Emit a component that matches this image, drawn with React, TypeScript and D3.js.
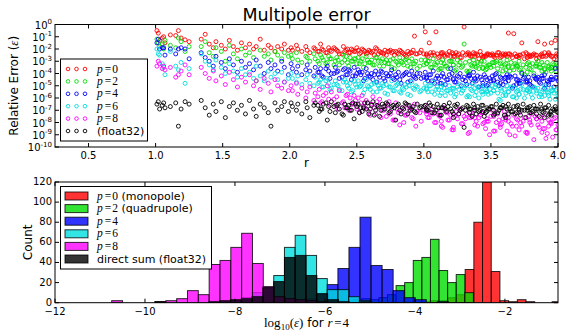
import * as d3 from "d3";

const W = 566;
const H = 336;

// ---------- top panel: sample radius and log10 relative error per order ----------
const rSamples = [
  1.01, 1.02, 1.03, 1.05, 1.06, 1.07, 1.11, 1.15, 1.17, 1.19, 1.22, 1.25,
  1.34, 1.37, 1.4, 1.43, 1.45, 1.49, 1.52, 1.55, 1.58, 1.61, 1.64, 1.67, 1.7, 1.73, 1.75, 1.78, 1.81, 1.84, 1.86, 1.89, 1.91, 1.94, 1.96, 1.99,
  2.01, 2.02, 2.05, 2.06, 2.09, 2.12, 2.13, 2.15, 2.18, 2.19, 2.22, 2.23, 2.25, 2.28, 2.29, 2.31, 2.34, 2.35, 2.37, 2.4, 2.41, 2.43, 2.45, 2.47, 2.48, 2.5,
  2.51, 2.53, 2.54, 2.56, 2.57, 2.59, 2.61, 2.62, 2.64, 2.66, 2.67, 2.69, 2.71, 2.72, 2.74, 2.76, 2.77, 2.79, 2.81, 2.82, 2.84, 2.86, 2.88, 2.89, 2.91, 2.93, 2.95, 2.98,
  3.01, 3.02, 3.04, 3.06, 3.07, 3.09, 3.1, 3.12, 3.14, 3.15, 3.17, 3.19, 3.2, 3.22, 3.24, 3.25, 3.27, 3.29, 3.3, 3.32, 3.34, 3.35, 3.37, 3.39, 3.4, 3.42, 3.44, 3.45, 3.47, 3.49,
  3.51, 3.52, 3.54, 3.55, 3.57, 3.59, 3.6, 3.62, 3.63, 3.65, 3.67, 3.68, 3.7, 3.71, 3.73, 3.74, 3.76, 3.78, 3.79, 3.81, 3.82, 3.84, 3.85, 3.87, 3.89, 3.9, 3.92, 3.93, 3.95, 3.96, 3.98, 3.99,
  2.21, 2.24, 2.27, 2.3, 2.33, 2.36, 2.39, 2.42, 2.44, 2.46,
  2.49, 2.52, 2.55, 2.58, 2.6, 2.63, 2.65, 2.68, 2.7, 2.73,
  2.75, 2.78, 2.8, 2.83, 2.85, 2.87, 2.9, 2.92, 2.94, 2.97,
  3.0, 3.03, 3.05, 3.08, 3.11, 3.13, 3.16, 3.18, 3.21, 3.23,
  3.26, 3.28, 3.31, 3.33, 3.36, 3.38, 3.41, 3.43, 3.46, 3.48,
  3.5, 3.53, 3.56, 3.58, 3.61, 3.64, 3.66, 3.69, 3.72, 3.75,
  3.77, 3.8, 3.83, 3.86, 3.88, 3.91, 3.94, 3.97, 3.985, 4.0,
  3.02, 3.13, 3.22, 3.34, 3.44, 3.52, 3.61, 3.69, 3.77, 3.84,
  3.9, 3.95, 3.57, 3.63, 3.71, 3.79, 3.88, 3.93, 3.47, 3.38,
];

const errP0 = [
  -0.5, -0.7, -1.3, -1.1, -1.0, -1.5, -0.85, -0.9, -0.5, -1.1, -1.25, -1.4,
  -1.2, -0.8, -1.6, -1.9, -1.4, -1.7, -2.0, -1.3, -1.8, -2.1, -1.5, -1.9, -1.6, -2.0, -1.8, -1.2, -2.1, -1.7, -1.9, -2.2, -1.8, -2.0, -1.6, -2.1,
  -1.9, -2.1, -1.7, -2.0, -2.2, -1.8, -2.1, -2.3, -1.9, -2.0, -2.2, -1.6, -2.1, -2.3, -1.9, -2.2, -2.0, -2.1, -2.4, -1.8, -2.2, -2.0, -2.3, -2.1, -2.2, -1.9,
  -2.1, -2.3, -2.0, -2.2, -2.4, -2.1, -2.3, -2.2, -1.9, -2.4, -2.2, -2.3, -2.1, -2.5, -2.2, -2.3, -2.2, -2.2, -2.4, -2.1, -2.3, -2.5, -2.2, -2.4, -2.3, -0.95, -2.4, -2.1,
  -0.6, -2.4, -1.5, -2.5, -2.3, -0.6, -2.4, -2.6, -2.3, -2.5, -2.4, -2.2, -2.6, -2.4, -2.3, -2.5, -2.7, -2.3, -0.2, -2.4, -2.5, -2.6, -2.3, -2.4, -2.5, -2.2, -2.6, -2.6, -2.4, -2.5,
  -2.4, -2.6, -2.5, -2.3, -2.7, -2.4, -2.5, -2.6, -0.7, -2.5, -0.75, -2.4, -2.6, -2.5, -1.5, -2.4, -2.3, -2.6, -2.6, -2.5, -2.4, -2.8, -1.4, -2.5, -2.6, -1.6, -2.5, -2.3, -1.5, -2.6, -1.3, -2.4,
  -2.2, -2.0, -2.3, -2.1, -1.9, -2.2, -2.4, -2.1, -2.3, -2.0,
  -2.2, -2.4, -2.1, -2.3, -2.2, -2.5, -2.0, -2.3, -2.4, -2.2,
  -2.1, -2.5, -2.3, -2.2, -2.4, -2.6, -2.3, -2.1, -2.4, -2.3,
  -2.4, -2.6, -2.3, -2.5, -2.7, -2.4, -2.6, -2.5, -2.3, -2.6,
  -2.4, -2.7, -2.5, -2.3, -2.6, -2.4, -2.8, -2.5, -2.6, -2.4,
  -2.5, -2.7, -2.3, -2.6, -2.5, -2.4, -2.7, -2.6, -2.5, -2.8,
  -2.4, -2.6, -2.5, -2.7, -2.4, -2.6, -2.5, -2.8, -2.6, -2.5,
  -2.5, -2.3, -2.6, -2.4, -2.7, -2.5, -2.4, -2.6, -2.7, -2.5,
  -2.3, -2.6, -2.5, -2.4, -2.7, -2.5, -2.6, -2.4, -2.5, -2.6,
];

const errP2 = [
  -1.2, -1.5, -1.8, -1.6, -2.0, -1.3, -1.7, -1.9, -1.1, -1.4, -2.2, -1.8,
  -1.8, -1.4, -2.3, -2.6, -1.9, -2.2, -3.0, -1.7, -2.4, -2.8, -2.0, -2.5, -2.3, -2.7, -4.6, -2.1, -2.6, -2.4, -2.9, -2.2, -2.5, -2.8, -2.3, -2.6,
  -2.5, -2.8, -2.3, -2.9, -3.1, -2.6, -2.7, -3.0, -2.4, -2.8, -3.2, -2.5, -2.9, -3.1, -2.6, -2.8, -3.0, -2.7, -3.3, -2.5, -2.9, -3.1, -2.7, -3.0, -2.8, -3.2,
  -2.7, -3.0, -2.8, -3.2, -2.6, -3.1, -2.9, -3.3, -2.7, -3.0, -3.4, -2.8, -3.1, -2.9, -3.2, -3.5, -2.8, -3.0, -3.3, -2.7, -3.1, -2.9, -3.4, -3.0, -2.8, -3.2, -3.6, -2.9,
  -2.9, -3.2, -3.0, -3.5, -2.8, -3.3, -3.1, -3.6, -2.9, -3.2, -3.4, -3.0, -3.0, -3.3, -3.7, -2.9, -3.1, -3.4, -1.6, -3.8, -3.0, -3.3, -2.9, -3.5, -3.1, -3.2, -3.6, -3.0, -3.4, -3.3,
  -3.1, -3.4, -3.0, -3.6, -3.2, -3.8, -3.3, -2.9, -3.5, -3.1, -3.7, -3.2, -3.4, -3.0, -3.9, -3.3, -3.5, -3.1, -3.6, -3.2, -4.0, -3.4, -3.0, -3.5, -3.3, -3.7, -3.1, -3.4, -3.8, -3.2, -3.5, -3.3,
  -3.0, -2.7, -3.2, -2.8, -3.3, -2.9, -3.1, -2.6, -3.4, -3.0,
  -2.8, -3.2, -3.5, -2.9, -3.1, -3.3, -2.7, -3.0, -3.4, -3.2,
  -2.9, -3.6, -3.1, -3.0, -3.3, -2.8, -3.5, -3.2, -3.0, -3.4,
  -3.3, -3.0, -3.5, -3.2, -3.7, -3.1, -3.4, -3.6, -3.0, -3.8,
  -3.3, -3.5, -3.1, -3.9, -3.4, -3.2, -3.6, -3.0, -3.7, -3.3,
  -3.5, -3.1, -4.0, -3.4, -3.2, -3.8, -3.5, -3.3, -3.6, -4.1,
  -3.2, -3.7, -3.4, -3.5, -3.1, -3.9, -3.6, -3.3, -3.8, -3.4,
  -3.2, -3.6, -3.3, -3.8, -3.5, -3.1, -3.7, -3.4, -3.9, -3.2,
  -3.6, -3.5, -3.0, -3.4, -3.7, -3.3, -3.8, -3.5, -3.6, -3.4,
];

const errP4 = [
  -1.5, -1.2, -2.0, -1.9, -1.9, -2.5, -2.0, -2.4, -2.0, -1.9, -2.0, -2.8,
  -2.3, -2.7, -3.0, -3.4, -2.6, -3.1, -3.6, -2.8, -3.3, -3.9, -3.0, -3.5, -3.2, -3.7, -2.9, -3.4, -4.0, -3.1, -3.6, -3.3, -3.8, -3.0, -3.5, -4.1,
  -3.2, -3.6, -3.9, -3.4, -4.1, -3.7, -3.3, -3.8, -4.2, -3.5, -3.9, -3.6, -4.3, -3.4, -3.8, -4.0, -3.5, -3.9, -4.4, -3.7, -3.6, -4.1, -3.8, -4.2, -3.5, -4.0,
  -3.7, -4.1, -3.9, -4.4, -3.6, -4.2, -4.0, -4.5, -3.8, -4.1, -4.3, -3.9, -4.6, -4.0, -4.2, -3.7, -4.4, -4.1, -3.9, -4.5, -4.2, -4.0, -4.7, -4.1, -3.8, -4.3, -4.0, -4.4,
  -3.9, -4.3, -4.1, -4.6, -3.8, -4.4, -4.2, -4.8, -4.0, -4.3, -4.5, -4.1, -3.6, -4.4, -4.7, -4.2, -4.0, -4.5, -4.3, -4.9, -4.1, -4.4, -3.9, -4.6, -4.2, -4.3, -4.8, -4.1, -4.5, -4.4,
  -4.2, -4.5, -4.0, -4.7, -4.3, -4.9, -4.4, -4.1, -4.6, -4.3, -5.0, -4.2, -4.5, -4.8, -4.0, -4.4, -4.7, -4.3, -4.6, -5.1, -4.2, -4.5, -4.3, -4.8, -4.4, -4.1, -4.6, -4.9, -4.3, -4.5, -3.6, -4.4,
  -3.9, -4.2, -3.6, -4.4, -4.0, -3.8, -4.3, -4.1, -3.7, -4.5,
  -4.2, -3.9, -4.6, -4.0, -4.3, -4.1, -4.7, -3.8, -4.4, -4.2,
  -4.0, -4.5, -4.3, -4.8, -4.1, -3.9, -4.6, -4.2, -4.4, -4.0,
  -4.3, -4.6, -4.1, -4.8, -4.4, -4.2, -4.9, -4.5, -4.0, -4.7,
  -4.3, -5.0, -4.6, -4.2, -4.8, -4.4, -5.1, -4.5, -4.3, -4.9,
  -4.6, -4.1, -5.0, -4.4, -4.7, -4.2, -5.2, -4.5, -4.8, -4.3,
  -4.6, -5.0, -4.4, -4.7, -4.2, -4.9, -4.5, -5.1, -4.3, -4.6,
  -4.4, -4.8, -4.5, -4.2, -5.0, -4.6, -4.3, -4.9, -4.7, -4.4,
  -5.2, -4.5, -4.8, -4.3, -4.6, -4.9, -4.4, -4.7, -5.0, -4.5,
];

const errP6 = [
  -2.0, -2.4, -2.5, -3.2, -3.5, -4.1, -2.2, -3.4, -3.7, -3.1, -4.8, -3.6,
  -2.4, -3.0, -3.3, -3.7, -2.9, -3.5, -4.0, -3.2, -3.8, -4.3, -3.6, -4.1, -3.9, -4.4, -3.4, -4.2, -4.6, -3.8, -4.3, -4.0, -4.5, -3.9, -4.7, -4.4,
  -4.0, -4.4, -4.7, -4.2, -4.9, -4.5, -4.1, -4.8, -5.0, -4.3, -4.7, -4.5, -5.1, -4.4, -4.8, -5.2, -4.6, -4.9, -5.3, -4.7, -4.5, -5.0, -4.8, -5.4, -4.6, -5.1,
  -4.6, -5.0, -4.8, -5.3, -4.5, -5.1, -4.9, -5.5, -4.7, -5.0, -5.2, -4.8, -5.6, -4.9, -5.1, -4.6, -5.4, -5.0, -4.8, -5.5, -5.2, -4.9, -5.7, -5.0, -4.7, -5.3, -5.1, -5.4,
  -4.8, -5.2, -5.0, -5.5, -4.7, -5.3, -5.1, -5.8, -4.9, -5.2, -5.4, -5.0, -5.6, -5.3, -5.7, -5.1, -4.9, -5.4, -5.2, -5.9, -5.0, -5.3, -4.8, -5.5, -5.1, -5.2, -5.7, -5.0, -5.4, -5.3,
  -5.0, -5.4, -4.9, -5.6, -5.2, -5.8, -5.3, -5.0, -5.5, -5.1, -5.9, -5.2, -5.4, -5.7, -4.9, -5.3, -5.6, -5.2, -5.5, -6.0, -5.1, -5.4, -5.2, -5.7, -5.3, -5.0, -5.5, -5.8, -5.2, -5.4, -6.1, -5.3,
  -4.8, -5.1, -4.6, -5.3, -4.9, -5.0, -5.4, -4.7, -5.2, -5.5,
  -4.9, -5.1, -5.6, -5.0, -5.3, -4.8, -5.5, -5.2, -5.0, -5.7,
  -5.1, -5.4, -4.9, -5.6, -5.3, -5.1, -5.8, -5.2, -5.0, -5.5,
  -5.2, -5.5, -5.0, -5.7, -5.3, -5.1, -5.8, -5.4, -5.2, -5.9,
  -5.3, -5.6, -5.0, -5.8, -5.4, -5.2, -6.0, -5.5, -5.3, -5.7,
  -5.6, -5.1, -6.1, -5.4, -5.8, -5.2, -5.9, -5.5, -5.3, -6.0,
  -5.4, -5.7, -5.2, -5.9, -5.5, -5.3, -6.1, -5.6, -5.4, -5.8,
  -5.3, -5.6, -5.2, -5.9, -5.5, -5.4, -5.7, -6.0, -5.3, -5.6,
  -5.8, -5.4, -6.2, -5.5, -5.7, -5.3, -5.9, -5.6, -5.5, -5.8,
];

const errP8 = [
  -3.4, -3.0, -3.2, -3.6, -3.4, -3.7, -3.5, -4.3, -4.1, -3.8, -3.3, -4.1,
  -3.5, -4.0, -4.4, -3.8, -4.6, -4.2, -4.9, -3.9, -4.5, -5.1, -4.3, -4.7, -4.1, -5.0, -4.6, -5.3, -4.4, -4.8, -5.5, -4.5, -5.0, -5.2, -4.7, -5.4,
  -5.0, -5.4, -4.8, -5.7, -5.2, -6.0, -5.5, -5.1, -6.2, -5.6, -5.3, -6.4, -5.8, -5.0, -6.1, -5.5, -6.6, -5.9, -5.4, -6.3, -6.8, -5.7, -6.0, -6.5, -5.8, -6.9,
  -6.0, -6.4, -5.8, -6.8, -6.2, -7.1, -6.5, -5.9, -7.3, -6.6, -6.1, -7.0, -6.7, -7.5, -6.3, -6.9, -7.8, -6.4, -7.2, -8.2, -6.8, -7.4, -6.6, -7.0, -7.6, -6.5, -7.1, -7.9,
  -6.6, -7.1, -7.6, -6.9, -7.3, -8.0, -7.0, -7.5, -8.4, -6.8, -7.2, -7.8, -7.4, -8.6, -7.1, -7.7, -6.9, -8.1, -7.5, -7.3, -8.8, -7.6, -7.0, -7.9, -8.3, -7.4, -7.2, -8.0, -7.7, -9.0,
  -7.0, -7.5, -8.0, -7.3, -8.4, -7.7, -7.1, -8.7, -7.6, -8.1, -7.4, -9.1, -7.8, -7.2, -8.3, -7.9, -8.8, -7.5, -8.0, -7.3, -9.4, -7.7, -8.2, -7.6, -8.5, -7.4, -8.9, -7.8, -8.1, -9.2, -7.6, -8.6,
  -5.9, -6.3, -5.6, -6.6, -6.1, -6.9, -6.4, -5.8, -7.0, -6.5,
  -6.2, -7.2, -6.7, -6.4, -7.4, -6.8, -6.3, -7.6, -7.0, -6.6,
  -7.3, -7.8, -6.9, -7.1, -8.0, -7.4, -6.8, -7.7, -8.3, -7.2,
  -7.0, -7.6, -7.2, -8.0, -7.4, -8.3, -7.1, -7.8, -8.6, -7.5,
  -7.3, -8.1, -7.7, -8.9, -7.4, -8.2, -7.6, -7.2, -8.5, -7.9,
  -7.5, -8.7, -7.8, -8.1, -7.4, -9.0, -8.3, -7.7, -8.0, -7.6,
  -8.8, -8.2, -7.5, -8.4, -7.9, -9.3, -8.0, -7.7, -8.6, -8.2,
  -7.3, -7.9, -8.4, -7.6, -8.1, -8.7, -7.8, -8.3, -8.9, -7.7,
  -8.5, -8.0, -8.2, -7.9, -8.6, -7.8, -8.8, -8.3, -7.9, -7.6,
];

const errF32 = [
  -6.5, -6.3, -6.9, -6.6, -6.4, -6.8, -6.7, -6.4, -8.3, -6.9, -6.3, -6.5,
  -6.2, -6.8, -7.4, -6.5, -7.1, -6.3, -7.6, -6.7, -6.4, -7.0, -6.6, -7.3, -6.2, -6.9, -7.5, -6.5, -6.8, -7.2, -8.3, -6.4, -7.0, -6.7, -6.3, -7.1,
  -6.4, -6.7, -7.0, -6.5, -7.3, -6.3, -6.8, -7.6, -6.6, -6.4, -7.1, -6.9, -6.5, -7.8, -6.7, -6.3, -7.2, -6.6, -6.9, -7.4, -6.5, -6.8, -7.0, -6.4, -7.7, -6.7,
  -6.5, -6.8, -7.1, -6.4, -6.9, -7.3, -6.6, -6.3, -7.0, -6.7, -7.5, -6.5, -6.9, -6.4, -7.2, -6.7, -6.6, -7.8, -6.5, -7.0, -6.8, -6.4, -7.3, -6.6, -6.9, -7.1, -6.5, -6.7,
  -6.6, -6.9, -6.4, -7.2, -6.7, -7.0, -6.5, -7.4, -6.8, -6.6, -7.1, -6.4, -6.9, -7.6, -6.7, -6.5, -7.0, -6.8, -8.4, -6.6, -7.2, -6.9, -6.5, -7.3, -6.7, -7.0, -6.6, -7.5, -6.8, -6.9,
  -6.7, -7.0, -6.5, -7.2, -6.8, -6.6, -7.4, -6.9, -6.5, -7.1, -6.7, -7.3, -6.6, -6.9, -7.0, -6.5, -7.6, -6.8, -6.7, -7.1, -6.6, -7.3, -6.9, -6.5, -7.2, -6.8, -7.0, -6.6, -7.4, -6.9, -6.7, -7.1,
  -6.6, -6.9, -6.4, -7.1, -6.7, -6.5, -7.3, -6.8, -6.6, -7.0,
  -6.5, -7.2, -6.8, -6.4, -6.9, -7.4, -6.6, -7.0, -6.7, -6.5,
  -7.1, -6.8, -6.6, -7.3, -6.9, -6.5, -7.0, -6.7, -7.2, -6.8,
  -6.7, -7.0, -6.6, -7.2, -6.8, -7.4, -6.9, -6.7, -7.1, -6.6,
  -7.3, -6.9, -7.0, -6.7, -7.5, -6.8, -7.1, -6.6, -7.2, -6.9,
  -6.7, -7.3, -7.0, -6.8, -7.6, -6.9, -7.1, -6.7, -7.4, -7.0,
  -6.8, -7.2, -6.9, -7.5, -7.1, -6.8, -7.3, -7.0, -6.9, -7.2,
  -7.0, -6.8, -7.3, -6.9, -7.1, -7.4, -6.7, -7.2, -7.0, -6.9,
  -7.6, -7.1, -6.8, -7.3, -7.0, -7.2, -6.9, -7.4, -7.1, -7.0,
];

const scatterLabels = ["0", "2", "4", "6", "8", "(float32)"];
const scatterValues = [errP0, errP2, errP4, errP6, errP8, errF32];
const seriesColors = ["#ff0000", "#00dd00", "#0000ff", "#00dddd", "#ff00ff", "#000000"];

// ---------- bottom panel: histograms of log10(err) at r = 4 ----------
// each: left edge of first bin, bin width, counts
const histP0 = { lo: -4.43, width: 0.1933, counts: [0, 0, 1, 1, 2, 2, 5, 8, 33, 80, 120, 31, 2, 1, 3, 1, 0, 0, 1] };
const histP2 = { lo: -6.52, width: 0.191, counts: [1, 0, 1, 1, 2, 1, 3, 4, 3, 5, 8, 17, 20, 42, 45, 63, 32, 20, 28, 10] };
const histP4 = { lo: -6.94, width: 0.2456, counts: [1, 2, 4, 9, 18, 34, 55, 85, 37, 33, 12, 5, 3, 0, 1] };
const histP6 = { lo: -8.09, width: 0.238, counts: [2, 5, 10, 15, 27, 55, 67, 47, 24, 13, 13, 6, 2] };
const histP8 = { lo: -10.74, width: 0.2407, counts: [2, 0, 0, 0, 1, 2, 4, 12, 8, 38, 42, 55, 69, 39, 16, 6, 4, 3, 2, 1] };
const histF32 = { lo: -9.78, width: 0.24, counts: [1, 0, 0, 0, 0, 1, 2, 3, 4, 6, 15, 21, 45, 47, 27, 9, 3, 1, 0, 1] };

const histList = [histP0, histP2, histP4, histP6, histP8, histF32];
const histLabels = ["0", "2", "4", "6", "8", "direct sum (float32)"];
const histNotes = [" (monopole)", " (quadrupole)", "", "", "", ""];

const topXTicks = [0.5, 1.0, 1.5, 2.0, 2.5, 3.0, 3.5, 4.0];
const topYExps = [0, -1, -2, -3, -4, -5, -6, -7, -8, -9, -10];
const botXTicks = [-12, -10, -8, -6, -4, -2];
const botYTicks = [0, 20, 40, 60, 80, 100, 120];

const SANS = "DejaVu Sans";
const SERIF = "Liberation Serif";

export default function App() {
  // top panel geometry
  const tL = 55, tR = 558, tT = 24.5, tB = 147;
  const x1 = d3.scaleLinear().domain([0.25, 4.0]).range([tL, tR]);
  const y1 = d3.scaleLog().domain([1e-10, 1]).range([tB, tT]);

  // bottom panel geometry
  const bL = 55, bR = 558, bT = 182, bB = 302.7;
  const x2 = d3.scaleLinear().domain([-12, -0.82]).range([bL, bR]);
  const y2 = d3.scaleLinear().domain([0, 120]).range([bB, bT]);

  const tick = 4;

  return (
    <svg
      width={W}
      height={H}
      style={{ position: "absolute", left: 0, top: 0, background: "#fff" }}
      fontFamily={SANS}
    >
      <defs>
        <clipPath id="clipTop">
          <rect x={tL} y={tT} width={tR - tL} height={tB - tT} />
        </clipPath>
        <clipPath id="clipBot">
          <rect x={bL} y={bT} width={bR - bL} height={bB - bT} />
        </clipPath>
      </defs>
      <rect x={0} y={0} width={W} height={H} fill="#fff" />

      {/* ---------------- top panel ---------------- */}
      <text x={(tL + tR) / 2} y={20.5} textAnchor="middle" fontSize={17.5}>
        Multipole error
      </text>

      <g clipPath="url(#clipTop)">
        {scatterValues.map((vals, si) => (
          <g key={si} fill="none" stroke={seriesColors[si]} strokeWidth={0.9}>
            {vals.map((v, i) => (
              <circle key={i} cx={x1(rSamples[i])} cy={y1(Math.pow(10, v))} r={2} />
            ))}
          </g>
        ))}
      </g>

      {/* top frame + ticks */}
      <rect x={tL} y={tT} width={tR - tL} height={tB - tT} fill="none" stroke="#000" strokeWidth={1} />
      {topXTicks.map((t) => (
        <g key={t}>
          <line x1={x1(t)} x2={x1(t)} y1={tB} y2={tB - tick} stroke="#000" />
          <line x1={x1(t)} x2={x1(t)} y1={tT} y2={tT + tick} stroke="#000" />
          <text x={x1(t)} y={159} textAnchor="middle" fontSize={10}>
            {t.toFixed(1)}
          </text>
        </g>
      ))}
      {topYExps.map((e) => (
        <g key={e}>
          <line x1={tL} x2={tL + tick} y1={y1(Math.pow(10, e))} y2={y1(Math.pow(10, e))} stroke="#000" />
          <line x1={tR} x2={tR - tick} y1={y1(Math.pow(10, e))} y2={y1(Math.pow(10, e))} stroke="#000" />
          <text x={52} y={y1(Math.pow(10, e)) + 4} textAnchor="end" fontSize={10}>
            10
            <tspan dy={-4.5} fontSize={7}>
              {e}
            </tspan>
          </text>
        </g>
      ))}
      <text x={306.5} y={167} textAnchor="middle" fontSize={12}>
        r
      </text>
      <text transform={`translate(18,${(tT + tB) / 2}) rotate(-90)`} textAnchor="middle" fontSize={12}>
        Relative Error (<tspan fontFamily={SERIF} fontStyle="italic" fontSize={13}>ε</tspan>)
      </text>

      {/* top legend */}
      <g>
        <rect x={60.5} y={59} width={87} height={82} fill="#fff" stroke="#000" strokeWidth={1} />
        {scatterLabels.map((lab, i) => {
          const cy = 69 + i * 12.4;
          return (
            <g key={i}>
              {[68, 76.5, 85].map((cx) => (
                <circle key={cx} cx={cx} cy={cy} r={1.8} fill="none" stroke={seriesColors[i]} strokeWidth={0.9} />
              ))}
              {i < 5 ? (
                <text x={97} y={cy + 3.5} fontFamily={SERIF} fontSize={11.5}>
                  <tspan fontStyle="italic">p</tspan>
                  <tspan dx={2}>=</tspan>
                  <tspan dx={1}>{lab}</tspan>
                </text>
              ) : (
                <text x={97} y={cy + 4} fontSize={11}>
                  {lab}
                </text>
              )}
            </g>
          );
        })}
      </g>

      {/* ---------------- bottom panel ---------------- */}
      <g clipPath="url(#clipBot)">
        {histList.map((h, hi) => (
          <g key={hi} fill={seriesColors[hi]} fillOpacity={0.8} stroke="#000" strokeOpacity={0.8} strokeWidth={1}>
            {h.counts.map((c, i) => {
              if (c <= 0) return null;
              const xa = x2(h.lo + i * h.width);
              const xb = x2(h.lo + (i + 1) * h.width);
              return <rect key={i} x={xa} y={y2(c)} width={xb - xa} height={y2(0) - y2(c)} />;
            })}
          </g>
        ))}
      </g>

      <rect x={bL} y={bT} width={bR - bL} height={bB - bT} fill="none" stroke="#000" strokeWidth={1} />
      {botXTicks.map((t) => (
        <g key={t}>
          <line x1={x2(t)} x2={x2(t)} y1={bB} y2={bB - tick} stroke="#000" />
          <line x1={x2(t)} x2={x2(t)} y1={bT} y2={bT + tick} stroke="#000" />
          <text x={x2(t)} y={314.5} textAnchor="middle" fontSize={10}>
            {"\u2212" + Math.abs(t)}
          </text>
        </g>
      ))}
      {botYTicks.map((t) => (
        <g key={t}>
          <line x1={bL} x2={bL + tick} y1={y2(t)} y2={y2(t)} stroke="#000" />
          <line x1={bR} x2={bR - tick} y1={y2(t)} y2={y2(t)} stroke="#000" />
          <text x={52} y={y2(t) + 3} textAnchor="end" fontSize={10}>
            {t}
          </text>
        </g>
      ))}
      <text transform={`translate(31.5,${(bT + bB) / 2}) rotate(-90)`} textAnchor="middle" fontSize={12}>
        Count
      </text>
      <text x={306.5} y={326.5} textAnchor="middle" fontSize={12}>
        <tspan fontFamily={SERIF} fontSize={13}>log</tspan>
        <tspan fontFamily={SERIF} fontSize={9} dy={3}>10</tspan>
        <tspan fontFamily={SERIF} fontSize={13} dy={-3}>(</tspan>
        <tspan fontFamily={SERIF} fontSize={13} fontStyle="italic">ε</tspan>
        <tspan fontFamily={SERIF} fontSize={13}>)</tspan>
        <tspan> for </tspan>
        <tspan fontFamily={SERIF} fontSize={13} fontStyle="italic">r</tspan>
        <tspan fontFamily={SERIF} fontSize={13} dx={1.5}>=</tspan>
        <tspan fontFamily={SERIF} fontSize={13} dx={1}>4</tspan>
      </text>

      {/* bottom legend */}
      <g>
        <rect x={60.5} y={186.5} width={151} height={82.5} fill="#fff" stroke="#000" strokeWidth={1} />
        {histLabels.map((lab, i) => {
          const cy = 196 + i * 12.6;
          return (
            <g key={i}>
              <rect
                x={65}
                y={cy - 4}
                width={23}
                height={8}
                fill={seriesColors[i]}
                fillOpacity={0.8}
                stroke="#000"
                strokeOpacity={0.8}
              />
              {i < 5 ? (
                <text x={97} y={cy + 3.5} fontSize={11}>
                  <tspan fontFamily={SERIF} fontStyle="italic" fontSize={11.5}>p</tspan>
                  <tspan fontFamily={SERIF} fontSize={11.5} dx={2}>=</tspan>
                  <tspan fontFamily={SERIF} fontSize={11.5} dx={1}>{lab}</tspan>
                  <tspan>{histNotes[i]}</tspan>
                </text>
              ) : (
                <text x={97} y={cy + 4} fontSize={11}>
                  {lab}
                </text>
              )}
            </g>
          );
        })}
      </g>
    </svg>
  );
}
